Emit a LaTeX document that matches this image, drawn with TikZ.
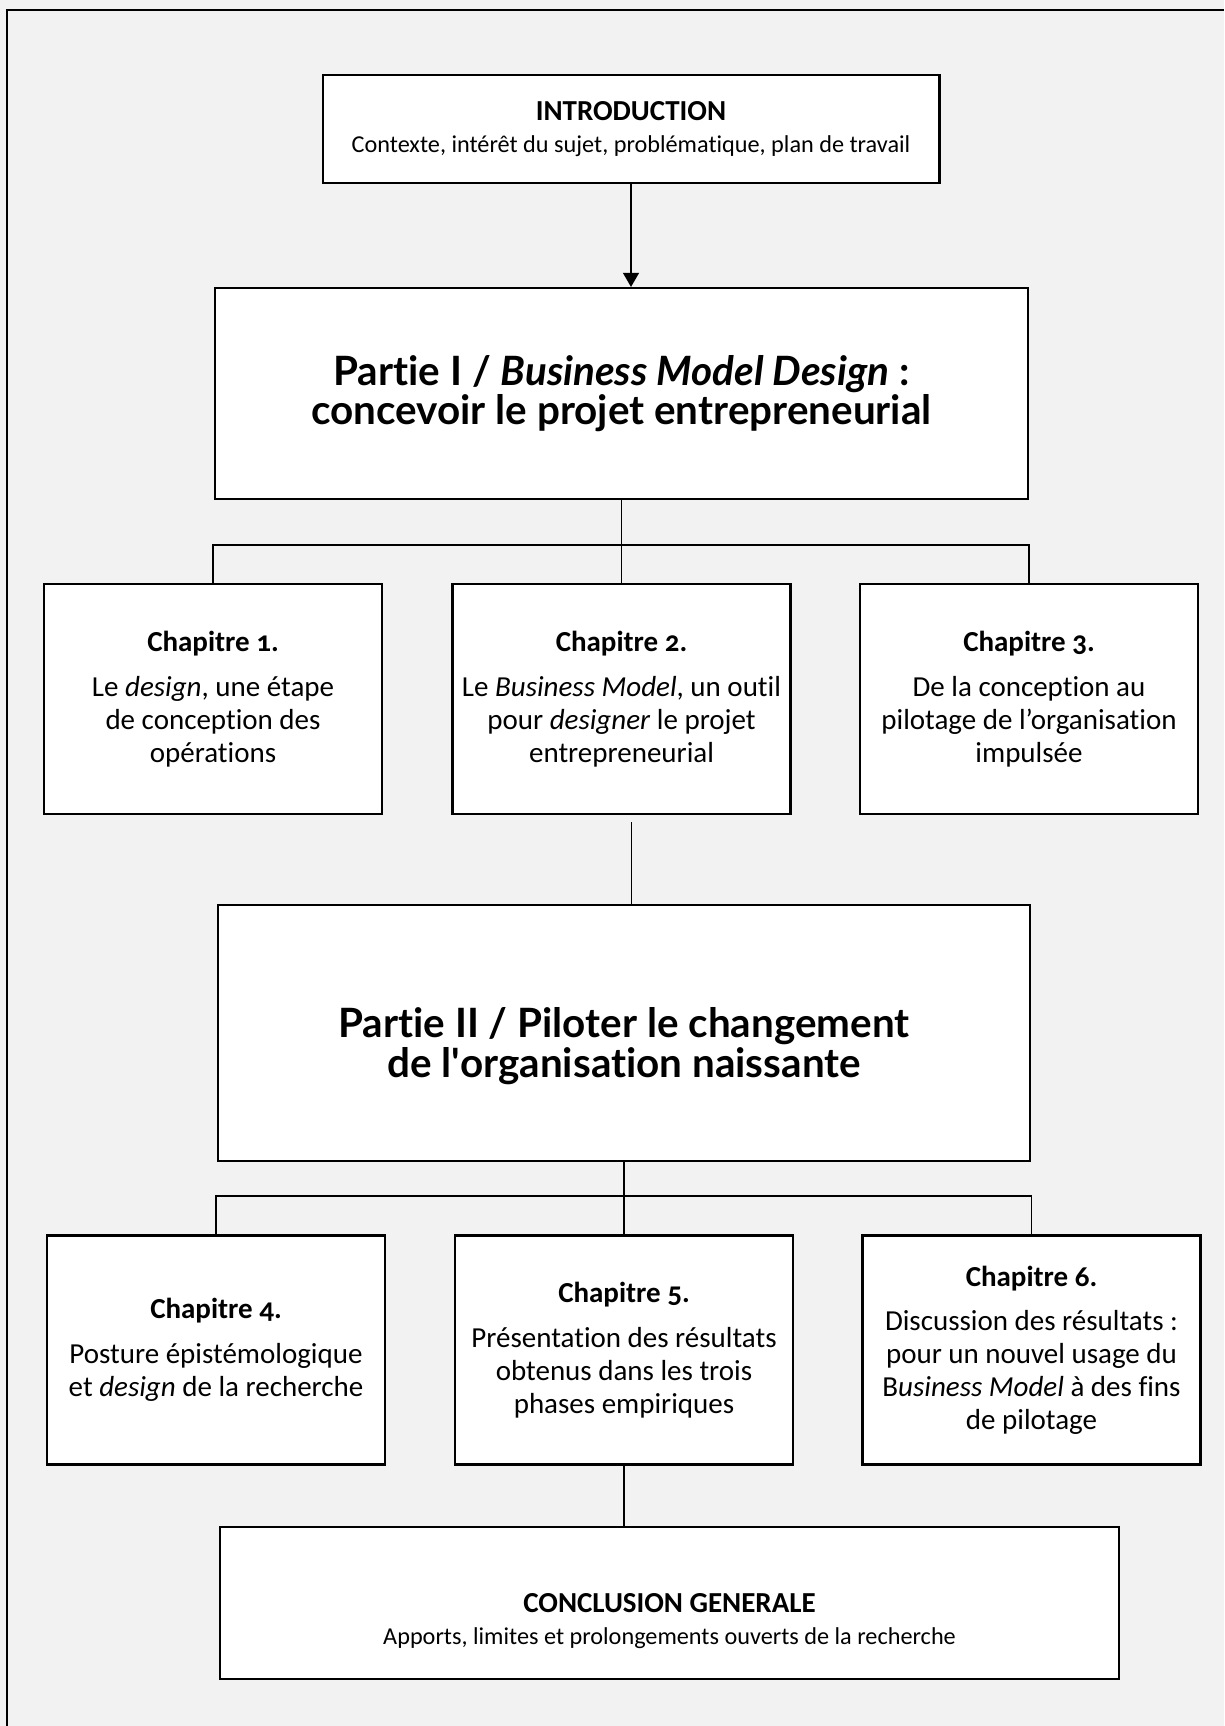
\documentclass[tikz,border=0pt]{standalone}
\usepackage{fontspec}
\setmainfont{Carlito}[Numbers=OldStyle, Ligatures=NoCommon]
\newfontfamily\partfont{Lato}[Ligatures=NoCommon]
\usetikzlibrary{arrows.meta}
\definecolor{fond}{HTML}{F2F2F2}
\begin{document}
\begin{tikzpicture}[x=0.02cm, y=-0.02cm,
    box/.style={draw, fill=white, line width=1.2pt, inner sep=0pt, align=center},
    chap/.style={box, minimum width=6.76cm, minimum height=4.6cm,
      font=\fontsize{16.5}{18.7}\selectfont},
    part/.style={box, minimum width=16.25cm,
      font=\partfont\bfseries\fontsize{23}{22.5}\selectfont},
    small/.style={font=\fontsize{13.8}{18.5}\selectfont, align=center},
    link/.style={line width=1pt}]
  \fill[fond] (0,0) rectangle (1224,1726);
  \useasboundingbox (0,0) rectangle (1224,1726);
  \draw[line width=1.2pt] (7,1726) -- (7,10) -- (1224,10);
  % introduction and part I
  \node (intro) at (631,129) [box, small, minimum width=12.34cm, minimum height=2.16cm]
    {{\bfseries\fontsize{16.5}{18}\selectfont INTRODUCTION}\\
     Contexte, intérêt du sujet, problématique, plan de travail};
  \node (p1) at (621.5,393.5) [part, minimum height=4.22cm]
    {Partie I / \textit{Business Model Design} :\\concevoir le projet entrepreneurial};
  \draw[link, -{Triangle[length=8pt, width=9pt]}] (intro.south) -- (intro.south |- p1.north);
  % chapters 1 to 3
  \node (c1) at (213,699) [chap] {{\bfseries Chapitre 1.}\\[6.8pt]
    Le \textit{design}, une étape\\de conception des\\opérations};
  \node (c2) at (621.5,699) [chap] {{\bfseries Chapitre 2.}\\[6.8pt]
    Le \textit{Business Model}, un outil\\pour \textit{designer} le projet\\entrepreneurial};
  \node (c3) at (1029,699) [chap] {{\bfseries Chapitre 3.}\\[6.8pt]
    De la conception au\\pilotage de l'organisation\\impulsée};
  \coordinate (b1) at (621.5,545);
  \draw[link] (p1.south) -- (b1);
  \draw[link] (c1.north) |- (b1) -| (c3.north);
  \draw[link] (b1) -- (c2.north);
  % part II
  \node (p2) at (624,1033) [part, minimum height=5.12cm] {};
  \node (p2txt) at ([yshift=-0.26cm]p2.center) [align=center,
    font=\partfont\bfseries\fontsize{23}{22.5}\selectfont]
    {Partie II / Piloter le changement\\de l\textquotesingle organisation naissante};
  \draw[link, shorten <=4pt] ([xshift=0.2cm]c2.south) -- ([xshift=0.2cm]c2.south |- p2.north);
  % chapters 4 to 6
  \node (c4) at (216,1350) [chap, minimum height=4.58cm] {{\bfseries Chapitre 4.}\\[6.8pt]
    Posture épistémologique\\et \textit{design} de la recherche};
  \node (c5) at (624,1350) [chap, minimum height=4.58cm] {{\bfseries Chapitre 5.}\\[6.8pt]
    Présentation des résultats\\obtenus dans les trois\\phases empiriques};
  \node (c6) at (1031.5,1350) [chap, minimum height=4.58cm] {{\bfseries Chapitre 6.}\\[6.8pt]
    Discussion des résultats :\\pour un nouvel usage du\\B\textit{usiness Model} à des fins\\de pilotage};
  \coordinate (b2) at (624,1196);
  \draw[link] (p2.south) -- (b2);
  \draw[link] (c4.north) |- (b2) -| (c6.north);
  \draw[link] (b2) -- (c5.north);
  % conclusion
  \node (concl) at (669.5,1603) [box, minimum width=17.98cm, minimum height=3.04cm] {};
  \node (concltxt) at ([yshift=-0.36cm]concl.center) [small]
    {{\bfseries\fontsize{16.5}{18}\selectfont CONCLUSION GENERALE}\\
     Apports, limites et prolongements ouverts de la recherche};
  \draw[link] (c5.south) -- (c5.south |- concl.north);
\end{tikzpicture}
\end{document}
